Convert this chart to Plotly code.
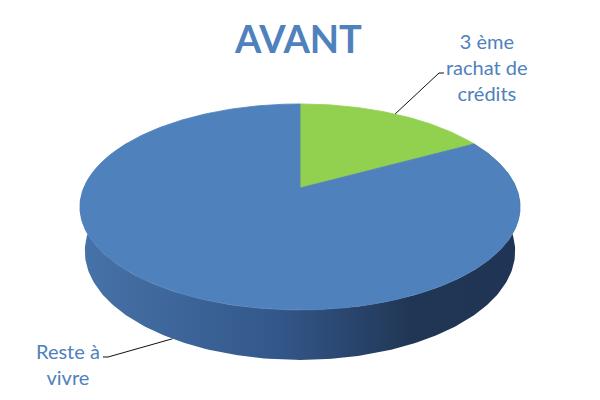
import numpy as np
import plotly.graph_objects as go

# ---- data ----
categories = ["3 ème rachat de crédits", "Reste à vivre"]
label_text = ["3 ème<br>rachat de<br>crédits", "Reste à<br>vivre"]
values = [17, 83]
colors = ["#92d050", "#4f81bd"]
title_text = "AVANT"

# ---- 3D projection geometry (pixel space) ----
CX, CY = 300.0, 188.0
F = 1045.0
L = 4.83
PHI = np.arcsin(0.46)
H = 0.232
cphi, sphi = np.cos(PHI), np.sin(PHI)


def proj(X, Y, Z):
    ry = Y + L * cphi
    rz = Z - L * sphi
    depth = ry * cphi - rz * sphi
    ys = ry * sphi + rz * cphi
    return CX + F * X / depth, CY - F * ys / depth


def pt(theta_deg, z=0.0):
    t = np.radians(theta_deg)
    return proj(np.sin(t), np.cos(t), z)


fig = go.Figure()

# side wall (cylinder) with horizontal gradient
th = np.linspace(60, 300, 241)
tx, ty = pt(th, 0.0)
bx, by = pt(th[::-1], -H)
fig.add_trace(go.Scatter(
    x=np.concatenate([tx, bx]), y=np.concatenate([ty, by]),
    mode="lines", line=dict(width=0), fill="toself",
    fillgradient=dict(type="horizontal", colorscale=[
        [0.0, "#4773a8"], [0.45, "#33578a"], [0.75, "#213655"], [1.0, "#203555"]]),
    hoverinfo="skip", showlegend=False))

# top slices
total = sum(values)
start = 0.0
mids = []
for v, c in zip(values, colors):
    span = 360.0 * v / total
    a = np.linspace(start, start + span, max(int(span * 2), 4))
    ax_, ay_ = pt(a, 0.0)
    x0, y0 = proj(0, 0, 0)
    fig.add_trace(go.Scatter(
        x=np.concatenate([[x0], ax_, [x0]]), y=np.concatenate([[y0], ay_, [y0]]),
        mode="lines", line=dict(width=0.8, color=c), fill="toself", fillcolor=c,
        hoverinfo="skip", showlegend=False))
    mids.append(start + span / 2)
    start += span

# leader lines
g_ax, g_ay = pt(mids[0], 0.0)
b_ax, b_ay = pt(mids[1], -H)
fig.add_trace(go.Scatter(x=[g_ax, 439, 444], y=[g_ay, 73, 73], mode="lines",
                         line=dict(color="#111111", width=1), hoverinfo="skip", showlegend=False))
fig.add_trace(go.Scatter(x=[b_ax, 108, 103], y=[b_ay, 357, 357], mode="lines",
                         line=dict(color="#111111", width=1), hoverinfo="skip", showlegend=False))

fig.add_annotation(x=487, y=67, xref="x", yref="y", text=label_text[0], showarrow=False,
                   xanchor="center", yanchor="middle", align="center",
                   font=dict(family="Lato", size=20, color="#4f81bd"))
fig.add_annotation(x=68, y=364, xref="x", yref="y", text=label_text[1], showarrow=False,
                   xanchor="center", yanchor="middle", align="center",
                   font=dict(family="Lato", size=20, color="#4f81bd"))
fig.add_annotation(x=298, y=38, xref="x", yref="y", text="<b>" + title_text + "</b>", showarrow=False,
                   xanchor="center", yanchor="middle",
                   font=dict(family="Lato", size=38, color="#4f81bd"))

fig.update_layout(
    width=600, height=400, margin=dict(l=0, r=0, t=0, b=0),
    paper_bgcolor="white", plot_bgcolor="white",
    xaxis=dict(range=[0, 600], visible=False, fixedrange=True),
    yaxis=dict(range=[400, 0], visible=False, fixedrange=True),
    showlegend=False,
)
fig.write_html("out.html", config={"displayModeBar": False},
               post_script="document.body.style.margin='0';")
